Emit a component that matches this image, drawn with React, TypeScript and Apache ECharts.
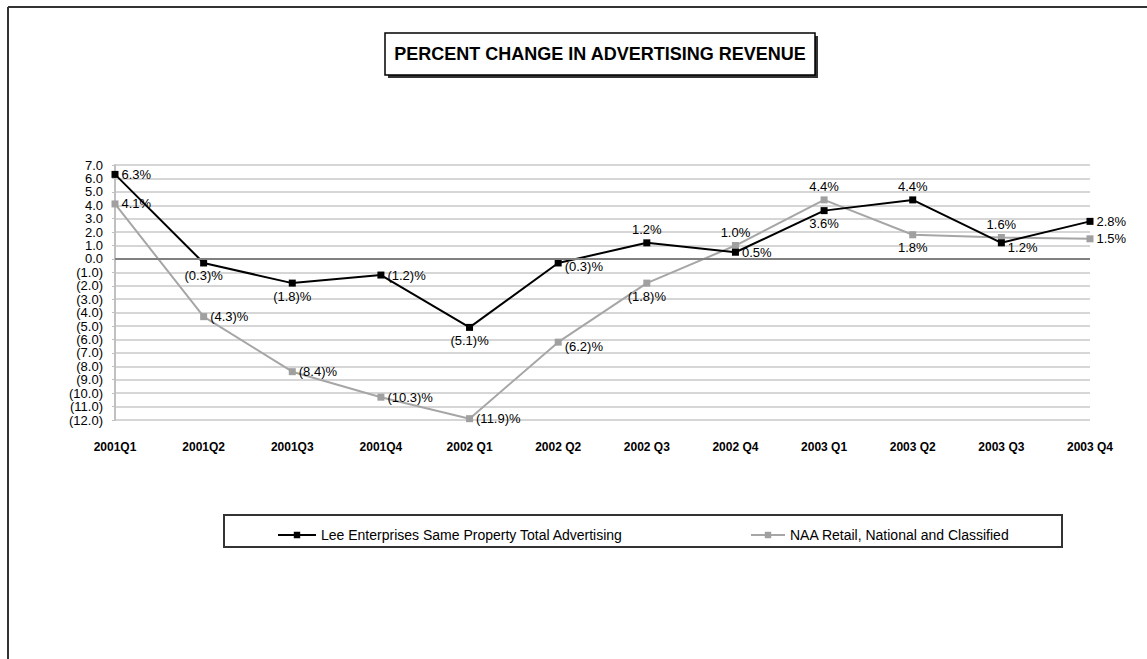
import React, { useEffect, useRef } from "react";
import * as echarts from "echarts";

// Quarterly percent change in advertising revenue
const quarters = [
  "2001Q1", "2001Q2", "2001Q3", "2001Q4",
  "2002 Q1", "2002 Q2", "2002 Q3", "2002 Q4",
  "2003 Q1", "2003 Q2", "2003 Q3", "2003 Q4",
];
const leeValues = [6.3, -0.3, -1.8, -1.2, -5.1, -0.3, 1.2, 0.5, 3.6, 4.4, 1.2, 2.8];
const naaValues = [4.1, -4.3, -8.4, -10.3, -11.9, -6.2, -1.8, 1.0, 4.4, 1.8, 1.6, 1.5];

const leeName = "Lee Enterprises Same Property Total Advertising";
const naaName = "NAA Retail, National and Classified";
const titleText = "PERCENT CHANGE IN ADVERTISING REVENUE";

// Where each point's value label sits, plus a small vertical nudge
const leeLabelPos = ["right", "bottom", "bottom", "right", "bottom", "right", "top", "right", "bottom", "top", "right", "right"];
const leeLabelDy = [0, 0, 0, 0, 0, 4, 0, 0, 0, 0, 5, 0];
const naaLabelPos = ["right", "right", "right", "right", "right", "right", "bottom", "top", "top", "bottom", "top", "right"];
const naaLabelDy = [0, 0, 0, 0, 0, 4, 0, 0, 0, 0, 0, 0];

const FONT = "'Liberation Sans', Arial, sans-serif";

const fmtAxis = (v: number) => (v < 0 ? `(${(-v).toFixed(1)})` : v.toFixed(1));
const fmtPct = (v: number) => (v < 0 ? `(${(-v).toFixed(1)})%` : `${v.toFixed(1)}%`);

function buildData(values: number[], positions: string[], dy: number[]) {
  return values.map((v, i) => ({
    value: v,
    label: { position: positions[i] as any, offset: [0, dy[i]] },
  }));
}

export default function App() {
  const ref = useRef<HTMLDivElement>(null);

  useEffect(() => {
    if (!ref.current) return;
    const chart = echarts.init(ref.current, undefined, { renderer: "svg" });
    const labelStyle = {
      show: true,
      fontFamily: FONT,
      fontSize: 13,
      color: "#000",
      distance: 3,
      formatter: (p: any) => fmtPct(p.value),
    };
    chart.setOption({
      animation: false,
      backgroundColor: "#fff",
      textStyle: { fontFamily: FONT },
      grid: { left: 115, right: 57, top: 165, bottom: 239, outerBoundsMode: "none" },
      legend: [
        {
          data: [leeName],
          left: 272,
          top: 523,
          itemWidth: 38,
          itemHeight: 8,
          textStyle: { fontFamily: FONT, fontSize: 14, color: "#000" },
        },
        {
          data: [naaName],
          left: 745,
          top: 523,
          itemWidth: 34,
          itemHeight: 8,
          textStyle: { fontFamily: FONT, fontSize: 14, color: "#000" },
        },
      ],
      xAxis: {
        type: "category",
        data: quarters,
        boundaryGap: false,
        axisLine: { show: false },
        axisTick: { show: false },
        splitLine: { show: false },
        axisLabel: {
          fontFamily: FONT,
          fontSize: 12,
          fontWeight: "bold",
          color: "#000",
          margin: 21,
          interval: 0,
        },
      },
      yAxis: {
        type: "value",
        min: -12,
        max: 7,
        interval: 1,
        axisLine: { show: true, lineStyle: { color: "#c0c0c0", width: 2 } },
        axisTick: { show: true, length: 3, lineStyle: { color: "#c0c0c0" } },
        splitLine: { show: true, lineStyle: { color: "#c8c8c8", width: 1.5 } },
        axisLabel: {
          fontFamily: FONT,
          fontSize: 13,
          color: "#000",
          margin: 12,
          formatter: fmtAxis,
        },
      },
      series: [
        {
          name: naaName,
          type: "line",
          data: buildData(naaValues, naaLabelPos, naaLabelDy),
          symbol: "rect",
          symbolSize: 7,
          itemStyle: { color: "#a0a0a0" },
          lineStyle: { color: "#a6a6a6", width: 2 },
          label: labelStyle,
          markLine: {
            silent: true,
            symbol: "none",
            label: { show: false },
            lineStyle: { color: "#808080", width: 2, type: "solid" },
            data: [{ yAxis: 0 }],
          },
          z: 2,
        },
        {
          name: leeName,
          type: "line",
          data: buildData(leeValues, leeLabelPos, leeLabelDy),
          symbol: "rect",
          symbolSize: 7,
          itemStyle: { color: "#000" },
          lineStyle: { color: "#000", width: 2 },
          label: labelStyle,
          z: 3,
        },
      ],
      graphic: [
        // outer frame (top and left edges)
        { type: "line", shape: { x1: 8, y1: 7, x2: 1147, y2: 7 }, style: { stroke: "#333", lineWidth: 2 } },
        { type: "line", shape: { x1: 8, y1: 7, x2: 8, y2: 659 }, style: { stroke: "#333", lineWidth: 2 } },
        // title box with drop shadow
        { type: "rect", shape: { x: 388, y: 36, width: 430, height: 42 }, style: { fill: "#333" } },
        {
          type: "rect",
          shape: { x: 385, y: 33, width: 430, height: 42 },
          style: { fill: "#fff", stroke: "#000", lineWidth: 1.5 },
        },
        {
          type: "text",
          x: 600,
          y: 54,
          style: {
            text: titleText,
            fontFamily: FONT,
            fontSize: 18,
            fontWeight: "bold",
            fill: "#000",
            align: "center",
            verticalAlign: "middle",
          },
        },
        // legend frame
        {
          type: "rect",
          shape: { x: 224, y: 515, width: 838, height: 32 },
          style: { fill: "none", stroke: "#333", lineWidth: 2 },
        },
      ],
    });
    return () => chart.dispose();
  }, []);

  return (
    <div
      ref={ref}
      style={{ position: "fixed", left: 0, top: 0, width: 1147, height: 659, background: "#fff" }}
    />
  );
}
